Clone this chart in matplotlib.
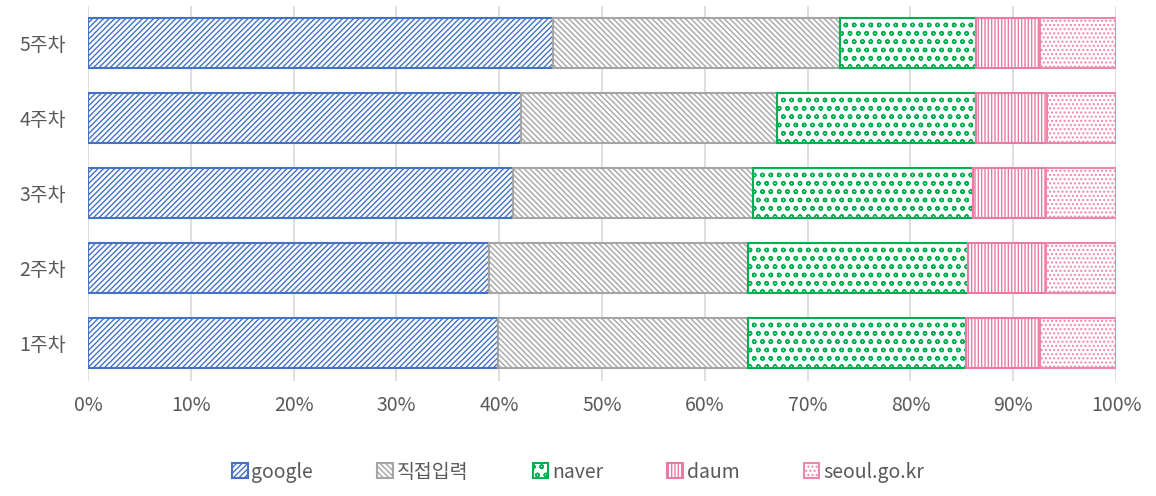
import matplotlib
matplotlib.use("Agg")
import matplotlib.pyplot as plt
import numpy as np

plt.rcParams['font.family'] = ['Noto Sans CJK KR', 'DejaVu Sans']
plt.rcParams['hatch.linewidth'] = 1.0

categories = ['1주차', '2주차', '3주차', '4주차', '5주차']
series_names = ['google', '직접입력', 'naver', 'daum', 'seoul.go.kr']
google = [39.9, 39.0, 41.3, 42.1, 45.2]
direct = [24.3, 25.2, 23.4, 24.9, 28.0]
naver = [21.2, 21.4, 21.4, 19.4, 13.2]
daum = [7.2, 7.6, 7.1, 6.9, 6.2]
seoul = [7.4, 6.8, 6.8, 6.7, 7.4]

colors = ['#4472C4', '#A5A5A5', '#00B050', '#EA7AA3', '#EE86AC']
hatches = ['//////', '\\\\\\\\\\\\', 'oo', '|||||', '....']

fig = plt.figure(figsize=(11.56, 4.96), dpi=100)
ax = fig.add_axes([0.0761, 0.232, 0.8893, 0.756])

data = [google, direct, naver, daum, seoul]
y = np.arange(len(categories))
left = np.zeros(len(categories))
handles = []
for vals, name, c, h in zip(data, series_names, colors, hatches):
    vals = np.array(vals)
    bars = ax.barh(y, vals, left=left, height=0.667, color='white',
                   edgecolor=c, hatch=h, linewidth=1.5, label=name, zorder=3)
    left += vals
    handles.append(bars)

ax.set_xlim(0, 100)
ax.set_ylim(-0.5, 4.5)
ax.set_xticks(np.arange(0, 101, 10))
ax.set_xticklabels([f'{v}%' for v in range(0, 101, 10)])
ax.set_yticks(y)
ax.set_yticklabels(categories)
ax.tick_params(axis='both', length=0, labelsize=14, colors='#595959', pad=10)
ax.tick_params(axis='y', pad=16)
ax.grid(axis='x', color='#D9D9D9', linewidth=1.2, zorder=0)
for s in ax.spines.values():
    s.set_visible(False)

fig.legend(handles=handles, labels=series_names, loc='center',
           bbox_to_anchor=(0.5, 0.048), ncol=5, frameon=False,
           fontsize=14, handlelength=0.8, handleheight=0.8,
           handletextpad=0.2, columnspacing=3.3, labelcolor='#595959')

fig.savefig('out.png', dpi=100)
